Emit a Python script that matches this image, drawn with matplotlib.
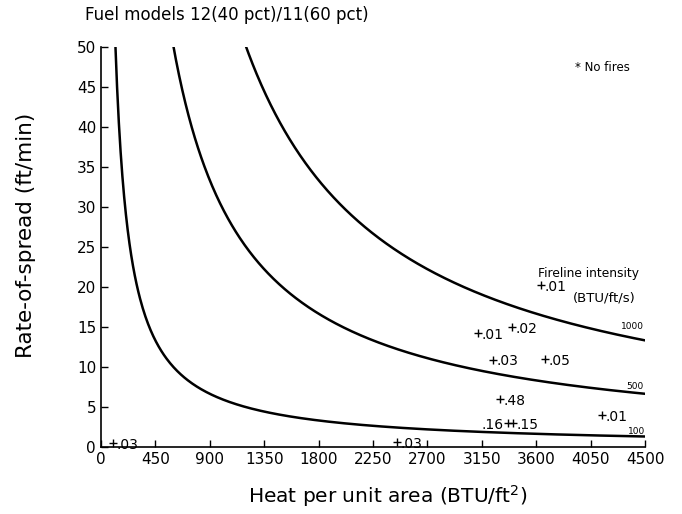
import numpy as np
import matplotlib
matplotlib.use("Agg")
import matplotlib.pyplot as plt

# Fireline intensity isolines (BTU/ft/s)
intensities = [100, 500, 1000]
intensity_labels = ["100", "500", "1000"]

# Observed fires: heat per unit area, rate of spread, label
obs_x = [100, 2450, 3120, 3400, 3640, 3245, 3675, 3300, 3365, 3410, 4145]
obs_y = [0.5, 0.6, 14.2, 15.0, 20.2, 10.9, 11.0, 6.0, 3.0, 3.0, 4.0]
obs_lab = [".03", ".03", ".01", ".02", ".01", ".03", ".05", ".48", ".16", ".15", ".01"]
obs_side = ["r", "r", "r", "r", "r", "r", "r", "r", "l", "r", "r"]

xticks = [0, 450, 900, 1350, 1800, 2250, 2700, 3150, 3600, 4050, 4500]
yticks = [0, 5, 10, 15, 20, 25, 30, 35, 40, 45, 50]

fig = plt.figure(figsize=(6.82, 5.14), dpi=100)
ax = fig.add_axes([0.148, 0.130, 0.798, 0.779])

for I in intensities:
    H = np.linspace(60 * I / 50.5, 4500, 600)
    R = 60.0 * I / H
    ax.plot(H, R, color="black", lw=1.8)

# curve labels
ax.text(4490, 60 * 1000 / 4500 + 1.2, intensity_labels[2], fontsize=6.5, ha="right", va="bottom")
ax.text(4490, 60 * 500 / 4500 + 0.3, intensity_labels[1], fontsize=6.5, ha="right", va="bottom")
ax.text(4500, 60 * 100 / 4500 + 0.1, intensity_labels[0], fontsize=6.5, ha="right", va="bottom")

ax.plot(obs_x, obs_y, linestyle="none", marker="+", color="black", ms=6, mew=1.0)
for x, y, l, s in zip(obs_x, obs_y, obs_lab, obs_side):
    if s == "r":
        ax.text(x + 25, y - 0.2, l, fontsize=10, ha="left", va="center")
    else:
        ax.text(x - 35, y - 0.2, l, fontsize=10, ha="right", va="center")

ax.text(3615, 21.75, "Fireline intensity", fontsize=8.8, ha="left", va="center")
ax.text(3900, 18.6, "(BTU/ft/s)", fontsize=9.5, ha="left", va="center")

ax.text(3920, 47.4, "* No fires", fontsize=8.5, ha="left", va="center")

ax.set_xlim(0, 4500)
ax.set_ylim(0, 50)
ax.set_xticks(xticks)
ax.set_yticks(yticks)
ax.tick_params(direction="in", length=5, labelsize=11, width=1)
ax.spines["top"].set_visible(False)
ax.spines["right"].set_visible(False)
ax.spines["left"].set_linewidth(1.2)
ax.spines["bottom"].set_linewidth(1.2)

ax.set_xlabel("Heat per unit area (BTU/ft$^2$)", fontsize=14.5)
ax.set_ylabel("Rate-of-spread (ft/min)", fontsize=15.5)
ax.xaxis.set_label_coords(0.527, -0.09)
ax.yaxis.set_label_coords(-0.12, 0.53)
fig.text(0.125, 0.97, "Fuel models 12(40 pct)/11(60 pct)", fontsize=12, ha="left", va="center")

fig.savefig("out.png", dpi=100)
